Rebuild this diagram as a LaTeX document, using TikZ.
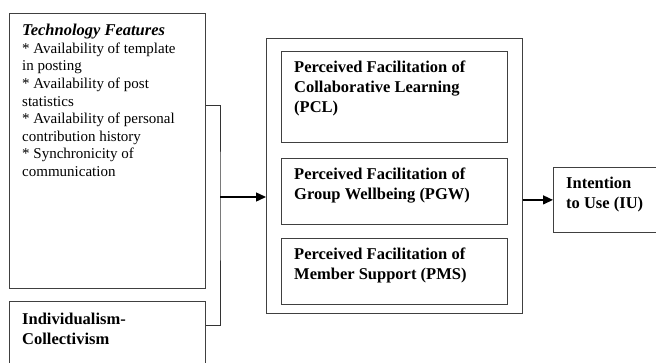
\documentclass[tikz,border=0pt]{standalone}
\usepackage{fontspec}
\setmainfont{Liberation Serif}
\usetikzlibrary{arrows.meta, positioning, calc}
\tikzstyle{box} = [rectangle, draw=black!75, line width=0.8pt, inner sep=0pt]
\tikzstyle{label} = [anchor=north west, inner sep=0pt, align=left]
\tikzstyle{arrow} = [line width=1.4pt, -{Triangle[length=10pt, width=9pt]}]
\tikzstyle{link} = [draw=black!80, line width=0.8pt]
\newcommand{\featfont}{\fontsize{15}{17.6}\selectfont}
\newcommand{\constfont}{\fontsize{16.5}{19.7}\selectfont\bfseries}

\begin{document}
\begin{tikzpicture}[x=1pt, y=-1pt]
	\useasboundingbox (0,0) rectangle (656,362);
	\clip (0,0) rectangle (656,362);
	% boxes
	\node (tech) [box, anchor=north west, minimum width=196pt, minimum height=275pt] at (9,13) {};
	\node (indiv) [box, anchor=north west, minimum width=196pt, minimum height=80pt] at (9,301) {};
	\node (outer) [box, anchor=north west, minimum width=256pt, minimum height=275pt] at (266,38) {};
	\node (pcl) [box, anchor=north west, minimum width=226pt, minimum height=91pt] at (281,51) {};
	\node (pgw) [box, below=15pt of pcl, minimum width=226pt, minimum height=66pt] {};
	\node (pms) [box, below=13pt of pgw, minimum width=226pt, minimum height=66pt] {};
	\node (iu) [box, anchor=north west, minimum width=110pt, minimum height=65pt] at (553,167) {};
	
	% texts
	\node (tech-text) [label, font=\featfont] at ([xshift=13pt, yshift=-11pt] tech.north west) {%
		{\fontsize{16.5}{17.6}\selectfont\bfseries\itshape Technology Features}\\
		* Availability of template\\
		in posting\\
		* Availability of post\\
		statistics\\
		* Availability of personal\\
		contribution history\\
		* Synchronicity of\\
		communication};
	\node (indiv-text) [label, font=\constfont] at ([xshift=13pt, yshift=-12pt] indiv.north west) {%
		Individualism-\\Collectivism};
	\node (pcl-text) [label, font=\constfont] at ([xshift=13pt, yshift=-10pt] pcl.north west) {%
		Perceived Facilitation of\\Collaborative Learning\\(PCL)};
	\node (pgw-text) [label, font=\constfont] at ([xshift=13pt, yshift=-10pt] pgw.north west) {%
		Perceived Facilitation of\\Group Wellbeing (PGW)};
	\node (pms-text) [label, font=\constfont] at ([xshift=13pt, yshift=-10pt] pms.north west) {%
		Perceived Facilitation of\\Member Support (PMS)};
	\node (iu-text) [label, font=\constfont] at ([xshift=13pt, yshift=-10pt] iu.north west) {%
		Intention\\to Use (IU)};
	
	% arrows
	\coordinate (join) at (220,197);
	\draw [link] (tech.east |- 0,105) -| (join) |- (indiv.east |- 0,325);
	\draw [arrow] (join) -- (outer.west |- join);
	\draw [arrow] (outer.east |- iu.west) -- (iu.west);
\end{tikzpicture}
\end{document}
